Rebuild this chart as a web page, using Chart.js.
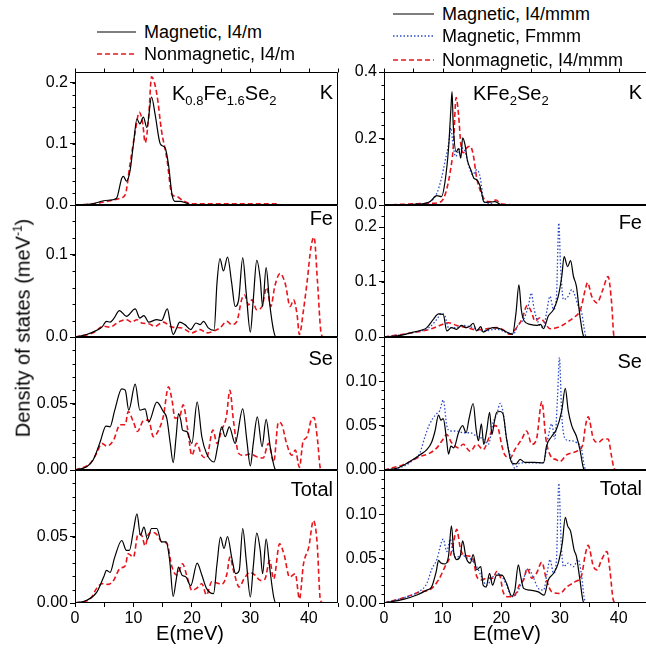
<!DOCTYPE html>
<html><head><meta charset="utf-8">
<script src="https://cdn.jsdelivr.net/npm/chart.js@4.4.1/dist/chart.umd.min.js"></script>
<style>
html,body{margin:0;padding:0;background:#fff;overflow:hidden;width:646px;height:649px;}
body{position:relative;font-family:"Liberation Sans",Arial,sans-serif;color:#000;}
canvas{position:absolute;}
.t{position:absolute;white-space:nowrap;line-height:1;}
.lg{position:absolute;white-space:nowrap;font-size:18px;line-height:1;transform:translateY(-50%);}
svg{position:absolute;overflow:visible;}
</style></head><body>
<script>
// ---------------- DATA (E in meV, DOS in meV^-1) ----------------
const energyMax = 45;
const seriesNamesLeft = ["Magnetic, I4/m", "Nonmagnetic, I4/m"];
const seriesNamesRight = ["Magnetic, I4/mmm", "Magnetic, Fmmm", "Nonmagnetic, I4/mmm"];
const panelLabels = ["K", "Fe", "Se", "Total"];

const leftK_mag = [[0,0],[3,0.002],[4.9,0.007],[6,0.008],[7.1,0.011],[8,0.044],[8.3,0.047],[8.8,0.039],[9.4,0.055],[10,0.1],[10.6,0.141],[11.1,0.133],[11.7,0.144],[12.3,0.127],[13.1,0.177],[13.7,0.149],[14.6,0.1],[15.4,0.094],[16,0.066],[16.6,0.017],[17.1,0.006],[18,0.006],[19.1,0.003],[20,0],[45,0]];
const leftK_non = [[0,0],[3.1,0.002],[6,0.007],[7.7,0.011],[8.6,0.017],[9.4,0.066],[10.3,0.12],[11,0.152],[11.6,0.133],[12,0.102],[12.6,0.144],[13.1,0.21],[14,0.182],[14.8,0.122],[15.7,0.077],[16.6,0.017],[17.4,0.014],[18.5,0.007],[20,0.002],[34.8,0.002],[35.2,0],[45,0]];

const leftFe_mag = [[0,0],[2,0.003],[3.7,0.008],[4.6,0.012],[5.4,0.019],[6,0.018],[6.6,0.022],[7.6,0.032],[8.8,0.025],[10.3,0.034],[11.1,0.023],[11.8,0.026],[12.6,0.018],[14,0.021],[14.8,0.02],[15.8,0.034],[16.3,0.017],[16.8,0.003],[17.4,0.011],[17.9,0.018],[18.8,0.015],[19.8,0.009],[20.7,0.017],[21.4,0.015],[22,0.019],[22.8,0.011],[23.8,0.008],[24.3,0.066],[24.8,0.095],[25.4,0.08],[26.1,0.097],[26.8,0.066],[27.4,0.037],[28,0.045],[28.7,0.096],[29.3,0.053],[30,0.006],[30.5,0.045],[31.1,0.093],[31.7,0.07],[32.1,0.037],[32.7,0.084],[33.3,0.041],[34,0.007],[34.4,0],[45,0]];
const leftFe_non = [[0,0],[3.1,0.005],[4.9,0.013],[6,0.012],[7.4,0.018],[8.8,0.021],[9.7,0.018],[10.6,0.021],[11.4,0.017],[12.6,0.016],[13.7,0.013],[15.1,0.018],[16.6,0.012],[18.3,0.011],[20,0.005],[21.4,0.009],[22.5,0.005],[24,0.008],[24.8,0.011],[26,0.019],[26.8,0.015],[27.7,0.019],[28.5,0.045],[29,0.051],[29.7,0.039],[30.3,0.045],[31.1,0.033],[32,0.037],[32.8,0.06],[33.5,0.037],[34.2,0.062],[35.1,0.077],[36,0.064],[36.8,0.037],[37.4,0.045],[38,0.027],[38.4,0.003],[39.1,0.033],[39.7,0.066],[40.4,0.11],[40.9,0.121],[41.5,0.066],[42.1,0.005],[42.5,0],[45,0]];

const leftSe_mag = [[0,0],[2,0.0025],[3.1,0.0075],[4.3,0.021],[5.3,0.033],[6,0.0325],[6.8,0.045],[8,0.061],[8.6,0.06],[9.2,0.045],[10.3,0.0645],[11.1,0.045],[12,0.046],[12.6,0.036],[14,0.051],[15.1,0.044],[15.7,0.039],[16.3,0.02],[16.8,0.0055],[17.3,0.025],[17.7,0.0425],[18.1,0.0375],[18.4,0.03],[19.1,0.029],[20,0.02],[20.9,0.051],[21.7,0.025],[22.5,0.0125],[23.8,0.006],[24.4,0.0175],[25.1,0.0325],[25.7,0.025],[26.4,0.0325],[27.4,0.02],[28.7,0.046],[29.4,0.0225],[30,0.003],[30.5,0.02],[31.2,0.04],[32,0.0175],[32.7,0.038],[33.4,0.0175],[34.2,0.001],[34.5,0],[45,0]];
const leftSe_non = [[0,0],[2.6,0.005],[3.7,0.0125],[4.6,0.02],[5.4,0.018],[6.6,0.0225],[7.7,0.034],[8.6,0.034],[9.1,0.044],[10,0.036],[10.7,0.029],[11.7,0.037],[12.6,0.0375],[13.4,0.025],[14.3,0.03],[15.1,0.04],[16,0.0625],[16.6,0.0525],[17.1,0.039],[17.9,0.04],[18.5,0.049],[19.3,0.03],[20,0.011],[20.8,0.02],[21.7,0.011],[22.5,0.009],[23.6,0.03],[24.3,0.02],[25.1,0.03],[25.9,0.04],[26.5,0.06],[27.1,0.0375],[28,0.0125],[28.8,0.011],[30,0.012],[31.1,0.01],[32.2,0.009],[33.1,0.02],[34,0.006],[34.8,0.036],[35.4,0.034],[36.2,0.02],[37.1,0.011],[37.7,0.015],[38.4,0.002],[39,0.021],[39.7,0.025],[40.4,0.0375],[40.9,0.0395],[41.5,0.0225],[42,0.001],[42.5,0],[45,0]];

const leftTot_mag = [[0,0],[2,0.002],[3.7,0.008],[4.9,0.0195],[5.4,0.0245],[6,0.023],[6.8,0.0345],[8,0.047],[8.8,0.0395],[9.3,0.0395],[10,0.0545],[10.6,0.067],[11.2,0.051],[11.8,0.057],[12.4,0.048],[13.1,0.056],[14,0.056],[14.8,0.046],[15.6,0.046],[16.2,0.032],[16.8,0.005],[17.3,0.017],[17.7,0.027],[18.3,0.021],[19,0.0195],[19.8,0.013],[20.9,0.03],[21.7,0.021],[22.5,0.011],[23.7,0.007],[24.3,0.0295],[24.9,0.0495],[25.5,0.041],[26.1,0.05],[26.8,0.0345],[27.5,0.022],[28.1,0.0245],[28.7,0.056],[29.3,0.032],[30,0.0045],[30.5,0.027],[31.1,0.0525],[31.7,0.0395],[32.1,0.022],[32.7,0.048],[33.3,0.027],[34,0.0045],[34.4,0],[45,0]];
const leftTot_non = [[0,0],[2.6,0.003],[3.7,0.011],[4.6,0.0145],[5.7,0.014],[6.6,0.017],[7.7,0.026],[8.6,0.028],[9.1,0.037],[10,0.0345],[10.8,0.052],[11.4,0.051],[12,0.043],[12.6,0.052],[13.4,0.053],[14.1,0.051],[14.8,0.046],[15.7,0.045],[16.6,0.027],[17.4,0.021],[18.4,0.0295],[19.1,0.021],[20,0.0095],[20.8,0.011],[21.7,0.0145],[22.5,0.006],[23.4,0.016],[24.3,0.015],[25.1,0.014],[26,0.022],[26.5,0.0345],[27.2,0.023],[28.1,0.012],[28.9,0.018],[29.9,0.023],[30.8,0.021],[31.7,0.017],[32.5,0.018],[33.3,0.032],[34,0.018],[35,0.0445],[35.8,0.036],[36.7,0.0195],[37.7,0.022],[38.4,0.003],[39.1,0.0295],[40,0.042],[40.8,0.062],[41.4,0.047],[42,0.002],[42.5,0],[45,0]];

const rightK_mag = [[0,0],[5,0.002],[7.8,0.01],[9,0.028],[9.8,0.025],[10.4,0.07],[11,0.17],[11.4,0.288],[11.6,0.341],[11.8,0.242],[12.3,0.16],[12.7,0.17],[13.1,0.141],[13.4,0.202],[13.8,0.182],[14.2,0.136],[14.9,0.101],[15.3,0.081],[15.8,0.076],[16.3,0.061],[16.6,0.04],[17,0.01],[17.5,0.008],[18.9,0.01],[19.8,0.002],[21,0],[45,0]];
const rightK_fmmm = [[0,0],[5,0.002],[7.8,0.01],[9,0.035],[9.8,0.081],[10.4,0.131],[11,0.182],[11.4,0.232],[11.7,0.192],[12.2,0.146],[12.7,0.162],[13.2,0.172],[13.8,0.162],[14.4,0.121],[15.1,0.091],[15.8,0.106],[16.3,0.091],[16.6,0.061],[17,0.01],[18.1,0.005],[19,0],[45,0]];
const rightK_non = [[0,0],[7.8,0.005],[9.5,0.008],[10.4,0.03],[11.3,0.101],[11.8,0.172],[12.3,0.323],[12.7,0.273],[13.1,0.182],[13.5,0.157],[14.1,0.172],[14.7,0.177],[15.2,0.152],[15.8,0.081],[16.6,0.035],[17.2,0.015],[18.1,0.01],[19.1,0.015],[19.8,0.005],[20.9,0.002],[22,0],[45,0]];

const rightFe_mag = [[0,0],[2.2,0.002],[5,0.009],[7.3,0.017],[8.4,0.032],[9.3,0.042],[10.1,0.041],[10.7,0.011],[11.5,0.017],[12.4,0.014],[13.2,0.021],[14,0.017],[14.7,0.02],[15.2,0.025],[15.8,0.011],[16.5,0.019],[16.9,0.009],[17.8,0.014],[18.6,0.017],[19.8,0.015],[20.9,0.009],[21.9,0.005],[22.5,0.044],[23,0.095],[23.4,0.05],[23.9,0.029],[24.9,0.023],[26,0.021],[26.7,0.023],[27.2,0.015],[28,0.038],[28.9,0.05],[29.7,0.074],[30.3,0.11],[30.7,0.146],[31.3,0.128],[31.8,0.139],[32.3,0.11],[32.8,0.092],[33.4,0.038],[34,0.002],[34.3,0],[45,0]];
const rightFe_fmmm = [[0,0],[5,0.008],[7.8,0.018],[9,0.032],[9.8,0.043],[10.4,0.038],[11,0.017],[12.4,0.017],[13.5,0.021],[15.2,0.017],[16.9,0.011],[19.2,0.014],[20.9,0.008],[22,0.005],[22.9,0.023],[23.8,0.032],[24.6,0.056],[25.1,0.08],[25.6,0.05],[26.3,0.026],[27.2,0.017],[27.7,0.044],[28.3,0.074],[28.9,0.05],[29.4,0.074],[29.8,0.207],[30.1,0.128],[30.6,0.068],[31.4,0.074],[32,0.086],[32.6,0.074],[33.1,0.056],[33.7,0.044],[34.1,0.017],[34.4,0.002],[34.7,0],[45,0]];
const rightFe_non = [[0,0],[5,0.008],[7.8,0.014],[9.5,0.021],[11,0.026],[12.4,0.021],[14.1,0.017],[15.8,0.013],[17.5,0.015],[19.2,0.017],[20.3,0.013],[21.5,0.005],[22.6,0.017],[23.5,0.032],[24.4,0.057],[25.2,0.044],[25.7,0.029],[26.6,0.035],[27.4,0.026],[28.3,0.015],[30,0.019],[31.1,0.026],[32.3,0.035],[33.5,0.05],[34.3,0.086],[34.7,0.099],[35.4,0.074],[36.3,0.062],[37.3,0.086],[38.2,0.11],[38.8,0.062],[39.2,0.002],[39.6,0],[45,0]];

const rightSe_mag = [[0,0],[2.2,0.002],[4.4,0.0096],[6.1,0.017],[7.3,0.023],[8.1,0.031],[8.7,0.044],[9.3,0.062],[9.7,0.056],[10.1,0.058],[10.6,0.038],[11,0.018],[11.4,0.027],[11.9,0.025],[12.7,0.042],[13.4,0.05],[14,0.042],[14.5,0.058],[15.2,0.075],[15.7,0.046],[16.1,0.033],[16.6,0.052],[17,0.029],[17.5,0.044],[18,0.065],[18.4,0.04],[18.8,0.054],[19.2,0.065],[19.8,0.066],[20.3,0.063],[20.9,0.035],[21.8,0.008],[22.5,0.007],[23.2,0.012],[24,0.0085],[25.5,0.0085],[27.2,0.008],[27.7,0.027],[28.6,0.038],[29.4,0.046],[30.3,0.067],[30.9,0.092],[31.4,0.067],[32,0.05],[32.8,0.038],[33.4,0.023],[34,0.002],[34.3,0],[45,0]];
const rightSe_fmmm = [[0,0],[3.3,0.004],[5,0.0115],[6.1,0.019],[7,0.038],[7.8,0.052],[8.9,0.063],[9.5,0.067],[10.1,0.079],[10.7,0.05],[11.3,0.044],[12.4,0.044],[13.5,0.042],[14.7,0.042],[15.8,0.038],[16.9,0.035],[17.8,0.029],[18.6,0.054],[19.2,0.062],[19.8,0.075],[20.3,0.065],[20.9,0.035],[21.8,0.0096],[22.3,0.002],[23.2,0.008],[24.9,0.008],[27.2,0.0085],[28,0.038],[28.6,0.052],[29.1,0.035],[29.6,0.085],[29.9,0.127],[30.3,0.062],[30.9,0.035],[31.7,0.033],[32.8,0.031],[33.7,0.023],[34.1,0.006],[34.4,0],[45,0]];
const rightSe_non = [[0,0],[3.3,0.006],[6.1,0.015],[7.8,0.019],[9,0.025],[10.1,0.035],[10.7,0.04],[11.5,0.031],[12.7,0.025],[13.5,0.029],[14.7,0.021],[15.8,0.029],[16.9,0.023],[18.1,0.04],[18.9,0.05],[19.5,0.046],[20.1,0.027],[20.6,0.017],[21.5,0.0135],[22.3,0.023],[23.5,0.035],[24.3,0.044],[25.2,0.029],[26,0.035],[26.9,0.077],[27.6,0.035],[28.3,0.017],[29.4,0.0115],[30,0.0096],[31.1,0.017],[32.8,0.021],[33.9,0.029],[34.3,0.048],[34.8,0.06],[35.7,0.035],[36.5,0.031],[37.4,0.035],[38.2,0.035],[38.8,0.015],[39.2,0.002],[39.6,0],[45,0]];

const rightTot_mag = [[0,0],[3.3,0.004],[5.6,0.009],[7.3,0.0145],[8.1,0.018],[8.9,0.0355],[9.3,0.048],[9.7,0.045],[10.4,0.044],[11,0.053],[11.5,0.087],[11.9,0.0565],[12.4,0.049],[13,0.053],[13.4,0.07],[14,0.051],[14.7,0.045],[15.2,0.0545],[15.8,0.0375],[16.5,0.041],[16.9,0.02],[17.4,0.018],[18,0.0335],[18.5,0.02],[19.2,0.0315],[20.1,0.0315],[20.9,0.022],[21.8,0.0076],[22.3,0.0145],[22.9,0.043],[23.3,0.03],[23.8,0.0165],[24.9,0.0145],[26.3,0.0126],[27.3,0.0088],[28,0.026],[28.9,0.0335],[29.7,0.045],[30.4,0.068],[30.9,0.0965],[31.3,0.087],[31.8,0.081],[32.4,0.06],[32.8,0.0525],[33.4,0.026],[34,0.001],[34.3,0],[45,0]];
const rightTot_fmmm = [[0,0],[3.9,0.007],[6.1,0.0135],[7.3,0.022],[8.1,0.0375],[9,0.049],[10.1,0.072],[10.7,0.058],[11.3,0.072],[11.7,0.06],[12.3,0.051],[13.2,0.0545],[14.1,0.051],[14.9,0.049],[15.8,0.041],[16.6,0.03],[17.5,0.02],[18.4,0.028],[19.2,0.0335],[20.1,0.03],[20.9,0.02],[21.8,0.007],[22.6,0.0107],[23.8,0.028],[24.6,0.039],[25.5,0.028],[26.3,0.0165],[27.2,0.0145],[27.8,0.0335],[28.3,0.049],[28.9,0.0335],[29.4,0.049],[29.8,0.135],[30.2,0.068],[30.6,0.041],[31.4,0.045],[32.3,0.041],[33.1,0.049],[33.7,0.03],[34.1,0.007],[34.4,0],[45,0]];
const rightTot_non = [[0,0],[3.9,0.007],[6.1,0.0126],[7.8,0.015],[9.3,0.026],[10.4,0.041],[11.3,0.053],[11.9,0.07],[12.4,0.083],[13,0.062],[13.5,0.0545],[14.4,0.053],[15.2,0.049],[15.8,0.03],[16.6,0.026],[17.5,0.028],[18.6,0.028],[19.2,0.0355],[19.8,0.03],[20.3,0.0126],[21.2,0.007],[22.3,0.009],[23.2,0.022],[23.8,0.026],[24.4,0.039],[25.2,0.028],[26,0.0335],[26.9,0.046],[27.7,0.026],[28.6,0.0126],[30,0.0107],[31.1,0.018],[32.6,0.024],[33.7,0.0317],[34.3,0.0545],[34.8,0.065],[35.7,0.041],[36.3,0.0374],[37.1,0.049],[38,0.058],[38.5,0.0374],[39.1,0.003],[39.5,0],[45,0]];

// tick values (labels) and axis maxima per panel
const xTickLabels = [0, 10, 20, 30, 40];
const leftYTicks  = [[0, 0.1, 0.2], [0, 0.1], [0, 0.05], [0, 0.05]];
const rightYTicks = [[0, 0.2, 0.4], [0, 0.1, 0.2], [0, 0.05, 0.10], [0, 0.05, 0.10]];
const leftYMax  = [0.218, 0.16, 0.1, 0.1];
const rightYMax = [0.4, 0.24, 0.15, 0.15];
const leftDecimals  = [1, 1, 2, 2];
const rightDecimals = [1, 1, 2, 2];
const leftMinorStep  = [0.02, 0.02, 0.01, 0.01];
const rightMinorStep = [0.04, 0.02, 0.01, 0.01];

const leftSeries  = [[leftK_mag, leftK_non], [leftFe_mag, leftFe_non], [leftSe_mag, leftSe_non], [leftTot_mag, leftTot_non]];
const rightSeries = [[rightK_mag, rightK_fmmm, rightK_non], [rightFe_mag, rightFe_fmmm, rightFe_non], [rightSe_mag, rightSe_fmmm, rightSe_non], [rightTot_mag, rightTot_fmmm, rightTot_non]];

// ---------------- STYLE / LAYOUT ----------------
const RED = '#e8141c', BLUE = '#2c4bc4', BLACK = '#000';
const styleLeft = [
  {borderColor: BLACK, borderWidth: 1.2, borderDash: []},
  {borderColor: RED, borderWidth: 1.6, borderDash: [5, 3]}
];
const styleRight = [
  {borderColor: BLACK, borderWidth: 1.2, borderDash: []},
  {borderColor: BLUE, borderWidth: 1.3, borderDash: [1.5, 2]},
  {borderColor: RED, borderWidth: 1.6, borderDash: [5, 3]}
];
const rowTop = [72, 205, 337, 470];
const rowH = [133, 132, 133, 133];
const cols = [
  {plotLeft: 75, plotW: 263, yAxisW: 70},
  {plotLeft: 384, plotW: 264, yAxisW: 60}
];
const TICK_FONT = {family: '"Liberation Sans", Arial, sans-serif', size: 16};
const PAD_TOP = 12, PAD_RIGHT = 12;

const framePlugin = {
  id: 'frame',
  afterDraw(chart, args, opts) {
    const {ctx, chartArea: a, scales} = chart;
    ctx.save();
    ctx.strokeStyle = '#000';
    ctx.lineWidth = 1;
    const L = Math.round(a.left) + 0.5, T = Math.round(a.top) + 0.5;
    const R = Math.round(a.right) - 0.5, B = Math.round(a.bottom) - 0.5;
    ctx.beginPath();
    ctx.moveTo(L, T); ctx.lineTo(R, T); ctx.lineTo(R, B); ctx.lineTo(L, B); ctx.closePath();
    // minor y ticks
    const y = scales.y;
    const n = Math.floor(y.max / opts.minorStep + 1e-6);
    for (let i = 0; i <= n; i++) {
      const py = Math.round(y.getPixelForValue(i * opts.minorStep)) + 0.5;
      ctx.moveTo(L - 3, py); ctx.lineTo(L, py);
    }
    if (opts.topTicks) {
      const x = scales.x;
      for (let v = 0; v <= energyMax; v += 5) {
        const px = Math.round(x.getPixelForValue(v)) + 0.5;
        ctx.moveTo(px, T); ctx.lineTo(px, T - 4);
      }
    }
    ctx.stroke();
    ctx.restore();
  }
};

function makePanel(ci, row, seriesList, styles, names, yTicks, yMax, decimals, minorStep) {
  const col = cols[ci];
  const isBottom = row === 3;
  const xAxisH = isBottom ? 34 : 12;
  const cv = document.createElement('canvas');
  const w = col.yAxisW + col.plotW + PAD_RIGHT;
  const h = PAD_TOP + rowH[row] + xAxisH;
  cv.width = w; cv.height = h;
  cv.style.left = (col.plotLeft - col.yAxisW) + 'px';
  cv.style.top = (rowTop[row] - PAD_TOP) + 'px';
  cv.style.width = w + 'px'; cv.style.height = h + 'px';
  document.body.appendChild(cv);
  const datasets = seriesList.map((s, i) => Object.assign({
    label: names[i],
    data: s.map(p => ({x: p[0], y: p[1]})),
    fill: false,
    pointRadius: 0,
    cubicInterpolationMode: 'monotone',
    tension: 0.4
  }, styles[i]));
  new Chart(cv, {
    type: 'line',
    data: {datasets},
    plugins: [framePlugin],
    options: {
      responsive: false, animation: false, devicePixelRatio: 1,
      layout: {padding: {top: PAD_TOP, right: PAD_RIGHT, left: 0, bottom: 0}},
      plugins: {legend: {display: false}, tooltip: {enabled: false},
        frame: {minorStep, topTicks: row === 0}},
      scales: {
        x: {
          type: 'linear', min: 0, max: energyMax,
          afterFit(s) { s.height = xAxisH; },
          border: {display: false},
          grid: {display: isBottom, drawOnChartArea: false, tickLength: 4, color: '#000', tickColor: '#000'},
          ticks: {display: isBottom, stepSize: 5, autoSkip: false, maxRotation: 0, padding: 2,
            font: TICK_FONT, color: '#000',
            callback: v => xTickLabels.includes(v) ? String(v) : ''}
        },
        y: {
          type: 'linear', min: 0, max: yMax,
          afterFit(s) { s.width = col.yAxisW; },
          afterBuildTicks(s) { s.ticks = yTicks.map(v => ({value: v})); },
          border: {display: false},
          grid: {display: true, drawOnChartArea: false, tickLength: 5, color: '#000', tickColor: '#000'},
          ticks: {padding: 2, font: TICK_FONT, color: '#000', callback: v => Number(v).toFixed(decimals)}
        }
      }
    }
  });
}

for (let r = 0; r < 4; r++) {
  makePanel(0, r, leftSeries[r], styleLeft, seriesNamesLeft, leftYTicks[r], leftYMax[r], leftDecimals[r], leftMinorStep[r]);
  makePanel(1, r, rightSeries[r], styleRight, seriesNamesRight, rightYTicks[r], rightYMax[r], rightDecimals[r], rightMinorStep[r]);
}

// ---------------- TEXT ----------------
function addText(html, css) {
  const d = document.createElement('div');
  d.className = 't';
  d.innerHTML = html;
  Object.assign(d.style, css);
  document.body.appendChild(d);
  return d;
}
// panel labels (right-aligned)
const labelYLeft = [92, 218, 358, 489];
const labelYRight = [92, 222, 361, 488];
panelLabels.forEach((t, i) => {
  addText(t, {right: (646 - 333) + 'px', top: labelYLeft[i] + 'px', fontSize: '20px', transform: 'translateY(-50%)'});
  addText(t, {right: (646 - 642) + 'px', top: labelYRight[i] + 'px', fontSize: '20px', transform: 'translateY(-50%)'});
});
addText('K<sub style="font-size:13px">0.8</sub>Fe<sub style="font-size:13px">1.6</sub>Se<sub style="font-size:13px">2</sub>',
  {left: '172px', top: '83px', fontSize: '20px'});
addText('KFe<sub style="font-size:13px">2</sub>Se<sub style="font-size:13px">2</sub>',
  {left: '473px', top: '83px', fontSize: '20px'});
addText('E(meV)', {left: '190px', top: '633px', fontSize: '20px', transform: 'translate(-50%,-50%)'});
addText('E(meV)', {left: '507px', top: '633px', fontSize: '20px', transform: 'translate(-50%,-50%)'});
addText('Density of states (meV<sup style="font-size:12px">-1</sup>)',
  {left: '22px', top: '328px', fontSize: '20px', transform: 'translate(-50%,-50%) rotate(-90deg)'});

// legends
function legendRow(x1, x2, y, style, text) {
  const svg = document.createElementNS('http://www.w3.org/2000/svg', 'svg');
  svg.setAttribute('width', x2 - x1); svg.setAttribute('height', 4);
  svg.style.left = x1 + 'px'; svg.style.top = (y - 2) + 'px';
  const ln = document.createElementNS('http://www.w3.org/2000/svg', 'line');
  ln.setAttribute('x1', 0); ln.setAttribute('x2', x2 - x1);
  ln.setAttribute('y1', 2); ln.setAttribute('y2', 2);
  ln.setAttribute('stroke', style.borderColor);
  ln.setAttribute('stroke-width', style.borderWidth);
  if (style.borderDash.length) ln.setAttribute('stroke-dasharray', style.borderDash.join(' '));
  svg.appendChild(ln);
  document.body.appendChild(svg);
  const d = document.createElement('div');
  d.className = 'lg';
  d.textContent = text;
  d.style.left = (x2 + 8) + 'px';
  d.style.top = y + 'px';
  document.body.appendChild(d);
}
const legendYLeft = [32, 54];
const legendYRight = [14, 36, 60];
seriesNamesLeft.forEach((n, i) => legendRow(97, 136, legendYLeft[i], styleLeft[i], n));
seriesNamesRight.forEach((n, i) => legendRow(393, 434, legendYRight[i], styleRight[i], n));
</script>
</body></html>
